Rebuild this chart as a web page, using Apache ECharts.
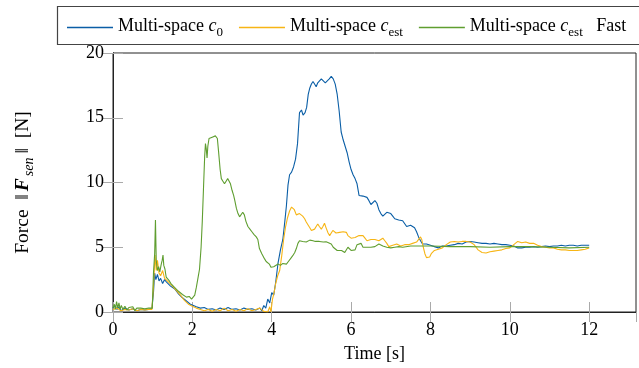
<!DOCTYPE html>
<html><head><meta charset="utf-8">
<script src="https://cdn.jsdelivr.net/npm/echarts/dist/echarts.min.js"></script>
<style>html,body{margin:0;padding:0;background:#fff}#c{width:639px;height:368px}</style>
</head><body><div id="c"></div>
<script>
var seriesNames = ['Multi-space c0', 'Multi-space cest', 'Multi-space cest Fast'];
var xTicks = [0, 2, 4, 6, 8, 10, 12];
var yTicks = [0, 5, 10, 15, 20];

var tBlue = [0,0.05,0.1,0.15,0.2,0.3,0.4,0.5,0.6,0.7,0.8,0.9,0.98,1.02,1.05,1.08,1.12,1.16,1.2,1.25,1.3,1.35,1.4,1.45,1.5,1.55,1.6,1.65,1.7,1.75,1.8,1.85,1.9,1.95,2.0,2.1,2.2,2.3,2.4,2.5,2.6,2.7,2.8,2.9,3.0,3.1,3.2,3.3,3.4,3.5,3.6,3.7,3.75,3.8,3.85,3.9,3.95,4.0,4.05,4.1,4.16,4.22,4.28,4.33,4.37,4.41,4.45,4.5,4.55,4.6,4.65,4.7,4.75,4.79,4.84,4.88,4.92,4.96,5.0,5.04,5.08,5.12,5.16,5.2,5.25,5.3,5.35,5.4,5.45,5.5,5.55,5.6,5.65,5.7,5.75,5.8,5.85,5.9,5.95,6.0,6.05,6.1,6.15,6.2,6.25,6.3,6.35,6.4,6.45,6.5,6.55,6.6,6.65,6.7,6.75,6.8,6.85,6.9,6.95,7.0,7.05,7.1,7.15,7.2,7.25,7.3,7.35,7.4,7.45,7.5,7.55,7.6,7.65,7.7,7.75,7.8,7.85,7.9,7.95,8.0,8.1,8.2,8.3,8.4,8.5,8.6,8.7,8.8,8.9,9.0,9.1,9.2,9.3,9.4,9.5,9.6,9.7,9.8,9.9,10.0,10.1,10.2,10.3,10.4,10.5,10.6,10.7,10.8,10.9,11.0,11.1,11.2,11.3,11.4,11.5,11.6,11.7,11.8,11.9,12.0];
var vBlue = [0.3,0.5,0.2,0.4,0.1,0.3,0.15,0.25,0.1,0.2,0.15,0.2,0.25,1.5,3.0,2.5,2.9,2.4,2.6,2.2,2.5,2.3,2.2,2.0,1.9,1.8,1.6,1.4,1.3,1.1,0.95,0.85,0.7,0.6,0.5,0.4,0.3,0.35,0.2,0.25,0.15,0.3,0.2,0.35,0.2,0.25,0.15,0.3,0.2,0.25,0.15,0.3,0.1,0.5,0.3,1.0,0.7,1.5,1.3,2.3,3.8,4.8,5.6,7.0,8.2,9.8,10.6,10.8,11.2,11.8,13.0,15.4,15.6,15.2,15.4,15.8,16.8,17.3,17.6,17.8,17.6,17.4,17.7,17.8,18.0,17.9,17.7,17.8,18.0,18.2,18.0,17.6,16.8,15.5,13.9,13.3,12.8,12.3,11.6,11.0,10.6,10.3,9.9,9.0,8.9,8.95,8.8,8.85,8.6,8.3,8.35,8.6,8.4,7.9,7.6,7.4,7.5,7.7,7.8,7.6,7.4,7.2,7.2,7.1,7.0,7.05,6.9,6.6,6.5,6.7,6.6,6.5,6.2,5.8,5.5,5.25,5.2,5.25,5.2,5.15,5.05,4.95,5.1,5.1,5.15,5.2,5.3,5.25,5.4,5.45,5.4,5.35,5.3,5.3,5.25,5.3,5.25,5.2,5.2,5.15,5.1,4.95,4.95,5.0,5.0,5.05,5.0,5.05,5.1,5.05,5.1,5.1,5.15,5.1,5.15,5.15,5.1,5.15,5.15,5.15];

var tYellow = [0,0.1,0.2,0.3,0.4,0.5,0.6,0.7,0.8,0.9,0.98,1.02,1.06,1.09,1.12,1.16,1.2,1.25,1.3,1.35,1.4,1.45,1.5,1.55,1.6,1.65,1.7,1.75,1.8,1.85,1.9,1.95,2.0,2.1,2.2,2.3,2.4,2.5,2.6,2.7,2.8,2.9,3.0,3.1,3.2,3.3,3.4,3.5,3.6,3.7,3.8,3.85,3.9,3.95,3.98,4.02,4.06,4.1,4.15,4.2,4.25,4.3,4.35,4.4,4.45,4.5,4.53,4.57,4.62,4.66,4.7,4.74,4.78,4.83,4.87,4.92,4.96,5.0,5.04,5.08,5.12,5.16,5.2,5.25,5.29,5.33,5.37,5.42,5.46,5.5,5.54,5.58,5.62,5.66,5.71,5.75,5.8,5.84,5.88,5.92,5.96,6.0,6.05,6.1,6.15,6.2,6.25,6.3,6.35,6.4,6.45,6.5,6.55,6.6,6.65,6.7,6.75,6.8,6.85,6.9,6.95,7.0,7.05,7.1,7.15,7.2,7.25,7.3,7.35,7.4,7.45,7.5,7.55,7.6,7.65,7.7,7.75,7.78,7.82,7.86,7.9,7.94,7.98,8.02,8.06,8.1,8.15,8.2,8.25,8.3,8.35,8.4,8.45,8.5,8.6,8.7,8.8,8.9,9.0,9.1,9.15,9.2,9.3,9.4,9.5,9.6,9.7,9.8,9.9,10.0,10.1,10.2,10.3,10.4,10.5,10.6,10.7,10.8,10.9,11.0,11.1,11.2,11.3,11.4,11.5,11.6,11.7,11.8,11.9,12.0];
var vYellow = [0.2,0.3,0.1,0.2,0.15,0.25,0.1,0.2,0.15,0.2,0.2,2.0,4.4,3.2,4.0,3.0,2.8,3.2,2.6,2.5,2.3,2.2,2.0,1.9,1.65,1.5,1.3,1.1,0.9,0.75,0.6,0.55,0.45,0.3,0.2,0.1,0.2,0.05,0.2,0.1,0.3,0.1,0.2,0.05,0.2,0.1,0.25,0.1,0.2,0.3,0.05,0.2,0.0,0.4,0.0,1.0,1.5,2.2,2.8,3.2,4.3,5.6,6.6,7.3,7.8,8.1,8.2,7.9,7.5,7.4,7.6,7.7,7.4,7.2,6.95,6.7,6.5,6.3,6.15,6.4,6.6,6.8,6.6,6.4,6.6,6.85,6.5,6.1,5.9,6.1,6.3,6.35,6.1,6.2,6.15,6.3,6.2,6.25,6.15,5.9,5.77,5.7,5.8,5.75,5.85,5.9,5.8,5.9,5.7,5.5,5.55,5.6,5.5,5.6,5.65,5.5,5.6,5.7,5.5,5.3,5.05,5.0,5.15,5.1,5.25,5.2,5.1,5.25,5.2,5.3,5.2,5.25,5.3,5.45,5.4,5.55,5.8,5.6,5.0,4.5,4.2,4.1,4.25,4.5,4.6,4.75,4.6,4.85,5.0,4.95,5.1,5.2,5.3,5.4,5.45,5.4,5.45,5.45,5.4,5.2,5.0,4.8,4.6,4.55,4.65,4.7,4.75,4.8,4.9,4.95,5.2,5.45,5.35,5.4,5.3,5.3,5.15,5.05,5.0,4.95,4.95,4.85,4.8,4.8,4.75,4.75,4.75,4.8,4.85,4.95];

var tGreen = [0,0.03,0.06,0.09,0.12,0.15,0.18,0.21,0.25,0.3,0.35,0.4,0.45,0.5,0.55,0.6,0.65,0.7,0.75,0.8,0.85,0.9,0.95,0.99,1.02,1.05,1.07,1.09,1.12,1.15,1.18,1.21,1.24,1.26,1.28,1.31,1.34,1.38,1.42,1.46,1.5,1.55,1.6,1.65,1.7,1.75,1.8,1.85,1.88,1.92,1.95,1.98,2.02,2.06,2.1,2.14,2.18,2.22,2.25,2.28,2.31,2.33,2.35,2.37,2.39,2.42,2.46,2.5,2.54,2.58,2.6,2.63,2.66,2.7,2.73,2.77,2.81,2.85,2.89,2.92,2.96,3.0,3.04,3.07,3.11,3.15,3.19,3.23,3.27,3.31,3.35,3.4,3.45,3.5,3.55,3.61,3.65,3.69,3.72,3.75,3.78,3.82,3.86,3.9,3.94,3.98,4.01,4.05,4.1,4.16,4.22,4.28,4.33,4.37,4.42,4.47,4.53,4.58,4.62,4.66,4.7,4.74,4.78,4.83,4.87,4.92,4.96,5.0,5.04,5.1,5.15,5.2,5.25,5.3,5.37,5.43,5.5,5.55,5.6,5.65,5.7,5.76,5.8,5.84,5.88,5.92,5.96,6.0,6.05,6.1,6.15,6.2,6.25,6.3,6.34,6.4,6.45,6.5,6.55,6.6,6.65,6.7,6.75,6.8,6.85,6.9,7.0,7.1,7.2,7.3,7.5,7.7,8.0,8.5,9.0,9.5,10.0,10.5,11.0,11.5,12.0];
var vGreen = [0.3,0.6,0.2,0.8,0.3,0.7,0.2,0.5,0.2,0.45,0.15,0.35,0.2,0.4,0.1,0.3,0.15,0.3,0.2,0.25,0.15,0.3,0.2,0.3,3.0,4.5,7.1,4.0,3.2,3.5,3.1,3.6,4.0,4.4,3.6,3.3,2.7,2.6,2.4,2.2,2.05,1.9,1.75,1.6,1.45,1.35,1.2,1.15,1.3,1.2,1.25,1.0,0.9,1.3,1.9,2.6,3.3,5.0,7.0,9.5,12.0,13.0,12.6,11.9,12.8,13.4,13.5,13.5,13.6,13.6,13.75,13.4,12.4,11.0,10.3,10.1,9.9,10.1,10.3,10.25,9.9,9.4,9.0,8.6,8.0,7.6,7.35,7.5,7.7,7.5,7.0,6.6,6.4,6.2,6.0,5.8,5.6,4.9,5.0,4.5,4.35,4.1,3.9,3.85,3.7,3.45,3.4,3.5,3.65,3.7,3.6,3.75,3.7,3.7,3.9,4.1,4.35,4.6,4.9,5.3,5.5,5.35,5.45,5.5,5.4,5.5,5.55,5.5,5.5,5.45,5.5,5.45,5.5,5.4,5.43,5.35,5.25,5.0,4.85,4.75,4.7,4.75,4.6,4.6,4.75,5.0,4.9,4.75,4.65,4.8,5.2,5.35,5.3,5.0,4.85,5.0,5.05,5.0,5.1,5.05,5.15,5.25,5.2,5.1,5.05,5.0,4.95,5.0,5.05,5.0,5.1,5.1,5.1,5.05,5.05,5.0,5.05,5.05,5.0,4.95,5.0];

function zip(t, v) { return t.map(function (x, i) { return [x, v[i]]; }); }

var FONT = 'Liberation Serif';
var colors = ['#0a5ea6', '#f7b515', '#5f9e30'];
var legendRich = {
  n: { fontFamily: FONT, fontSize: 18, color: '#000', padding: [0, 0, 3, 0] },
  c: { fontFamily: FONT, fontSize: 18, fontStyle: 'italic', color: '#000', padding: [0, 0, 3, 0] },
  sb: { fontFamily: FONT, fontSize: 13, color: '#000', verticalAlign: 'bottom', lineHeight: 14, padding: [0, 0, -1, 0] }
};
var legendFmt = {};
legendFmt[seriesNames[0]] = '{n|Multi-space }{c|c}{sb|0}';
legendFmt[seriesNames[1]] = '{n|Multi-space }{c|c}{sb|est}';
legendFmt[seriesNames[2]] = '{n|Multi-space }{c|c}{sb|est}{n|   Fast}';

function isTick(v, arr) { return arr.some(function (a) { return Math.abs(a - v) < 1e-9; }); }

var chart = echarts.init(document.getElementById('c'));
var axLine = { show: true, lineStyle: { color: '#222', width: 1 } };
var tickSt = { show: true, inside: true, length: 10, lineStyle: { color: '#aaa', width: 1 } };
chart.setOption({
  animation: false,
  color: colors,
  grid: { left: 113, right: 3, top: 53, bottom: 55, show: true, borderColor: '#222', borderWidth: 1, containLabel: false },
  graphic: [{ type: 'rect', shape: { x: 57.5, y: 6.5, width: 620, height: 38 }, style: { fill: 'none', stroke: '#444', lineWidth: 1.2 }, z: 10 }],
  legend: {
    left: 67, top: 17, padding: 0, itemWidth: 46, itemHeight: 1.5, itemGap: 16, icon: 'rect',
    data: seriesNames,
    formatter: function (name) { return legendFmt[name]; },
    textStyle: { rich: legendRich }
  },
  xAxis: [{
    type: 'value', min: 0, max: 13.18, interval: 2, position: 'bottom',
    name: 'Time [s]', nameLocation: 'middle', nameGap: 33,
    nameTextStyle: { fontFamily: FONT, fontSize: 18, color: '#000' },
    axisLine: axLine, axisTick: tickSt, splitLine: { show: false },
    axisLabel: { margin: 9, fontFamily: FONT, fontSize: 18, color: '#000', showMaxLabel: false,
      formatter: function (v) { return isTick(v, xTicks) ? String(v) : ''; } }
  }, {
    type: 'value', min: 0, max: 13.18, interval: 2, position: 'top',
    axisLine: axLine, axisTick: tickSt, splitLine: { show: false }, axisLabel: { show: false }
  }],
  yAxis: [{
    type: 'value', min: 0, max: 20, interval: 5, position: 'left',
    name: '{t|Force  ‖}{F|F}{s|sen}{t|‖  [N]}', nameLocation: 'middle', nameGap: 80,
    nameTextStyle: { rich: {
      t: { fontFamily: FONT, fontSize: 19.5, color: '#000' },
      F: { fontFamily: FONT, fontSize: 19.5, fontWeight: 'bold', fontStyle: 'italic', color: '#000', padding: [0, 2, 0, 3] },
      s: { fontFamily: FONT, fontSize: 14, fontStyle: 'italic', color: '#000', verticalAlign: 'bottom', lineHeight: 14, padding: [0, 4, -3, 0] }
    } },
    axisLine: axLine, axisTick: tickSt, splitLine: { show: false },
    axisLabel: { margin: 9, fontFamily: FONT, fontSize: 18, color: '#000',
      formatter: function (v) { return isTick(v, yTicks) ? String(v) : ''; } }
  }, {
    type: 'value', min: 0, max: 20, interval: 5, position: 'right',
    axisLine: axLine, axisTick: tickSt, splitLine: { show: false }, axisLabel: { show: false }
  }],
  series: [
    { name: seriesNames[0], type: 'line', data: zip(tBlue, vBlue), showSymbol: false, symbol: 'none', lineStyle: { width: 1.1, color: colors[0] }, z: 3 },
    { name: seriesNames[1], type: 'line', data: zip(tYellow, vYellow), showSymbol: false, symbol: 'none', lineStyle: { width: 1.1, color: colors[1] }, z: 4 },
    { name: seriesNames[2], type: 'line', data: zip(tGreen, vGreen), showSymbol: false, symbol: 'none', lineStyle: { width: 1.1, color: colors[2] }, z: 5 }
  ]
});
</script></body></html>
